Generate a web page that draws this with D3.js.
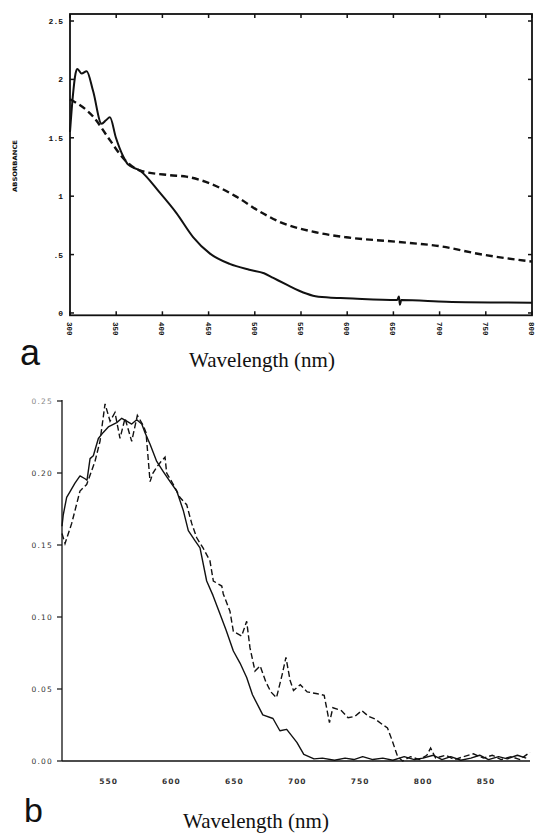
<!DOCTYPE html>
<html><head><meta charset="utf-8">
<script src="https://cdn.jsdelivr.net/npm/d3@7"></script>
<style>body{margin:0;background:#fff}svg{display:block}</style>
</head><body>
<svg id="c" width="535" height="835"></svg>
<script>
// ---------- Panel a data ----------
const aXTicks = [300,350,400,450,500,550,600,650,700,750,800];
const aYTicks = [0,0.5,1,1.5,2,2.5];
const aYLabels = ["0",".5","1","1.5","2","2.5"];
const aSolidNm  = [300,303,306,308,312.6,318,325,334.2,338.9,343.2,349.7,357.6,363,375.6,397.2,415.2,433.2,451.2,472.8,494,510,520,535,548,563,580,599,654,656,657,658.5,707,800];
const aSolidAbs = [1.55,1.85,2.05,2.09,2.05,2.07,1.9,1.62,1.65,1.675,1.5,1.34,1.27,1.22,1.03,0.855,0.65,0.51,0.42,0.37,0.34,0.30,0.24,0.19,0.148,0.132,0.126,0.11,0.14,0.07,0.11,0.097,0.088];
const aDashNm  = [300,325.2,343.2,357.6,375.6,408,426,451.2,480,505,526.8,562.8,598.8,652.8,703.2,742.8,800];
const aDashAbs = [1.83,1.68,1.48,1.325,1.22,1.18,1.167,1.11,0.996,0.87,0.78,0.696,0.648,0.61,0.568,0.505,0.44];

// ---------- Panel b data ----------
const bXTicks = [550,600,650,700,750,800,850];
const bYTicks = [0,0.05,0.10,0.15,0.20,0.25];
const bSolidNm  = [513,514,516.7,519.4,523.3,527.3,531.3,532.9,535.3,537.9,541.9,545.6,549.8,556.5,560.5,564.4,568.4,572.4,576.4,579,583,588.3,593.5,598.9,604.2,609.4,613.4,618.7,622.7,628,633,638.6,643.4,649.2,654.5,659.8,664.4,672.6,680.7,686.2,691.6,699.7,705.2,713.3,720,729.6,738,745,752,760,768,776,785,793,800,808,815,822,830,838,845,852,860,867,875,882];
const bSolidVal = [0.163,0.171,0.183,0.187,0.193,0.198,0.196,0.195,0.21,0.212,0.224,0.228,0.232,0.235,0.238,0.236,0.234,0.237,0.234,0.228,0.22,0.208,0.201,0.194,0.1875,0.174,0.16,0.153,0.148,0.125,0.115,0.102,0.091,0.0764,0.068,0.058,0.046,0.032,0.0295,0.021,0.022,0.0129,0.0046,0.0015,0.002,0.0005,0.002,0.001,0.003,0.001,0.002,0.0005,0.003,0.001,0.002,0.004,0.001,0.003,0.0005,0.002,0.004,0.001,0.003,0.0015,0.004,0.002];
const bDashNm  = [513,515.4,520.7,527.3,532.6,539.2,543.2,547.2,551.2,555.1,559.1,563.1,568.4,572.9,577.6,579.8,583,585.3,588.3,591.7,594.9,596.2,601.5,606.8,612.1,616.1,620.1,625.1,630.6,633.3,640,641.2,646.5,649.2,655.8,659.8,662.4,666.4,670.5,675,679,683.5,688,691,694.3,697,702.4,707.9,716,721.4,725.6,728.3,735,740.4,745.8,751.3,756.7,762.1,767.6,771.7,775.7,779.8,783.8,790,797,803,806,810,818,825,832,840,848,855,862,870,877,885];
const bDashVal = [0.158,0.151,0.165,0.1875,0.192,0.208,0.222,0.248,0.236,0.242,0.224,0.238,0.222,0.24,0.233,0.228,0.194,0.2,0.204,0.208,0.211,0.2,0.192,0.183,0.178,0.165,0.155,0.148,0.139,0.125,0.1215,0.116,0.104,0.09,0.0868,0.097,0.0787,0.0625,0.066,0.055,0.048,0.044,0.06,0.072,0.056,0.049,0.053,0.048,0.0467,0.0456,0.0266,0.037,0.035,0.030,0.031,0.035,0.031,0.029,0.0254,0.023,0.0136,0.003,0.0,0.003,0.001,0.004,0.009,0.002,0.004,0.001,0.003,0.005,0.002,0.004,0.001,0.003,0.001,0.006];

const svg = d3.select("#c");
const ink = "#111";

// ================= Panel a =================
const ax = d3.scaleLinear().domain([300,800]).range([70,532]);
const ay = d3.scaleLinear().domain([-0.02,2.56]).range([315.3,14]);
const ga = svg.append("g");

ga.append("rect").attr("x",ax(300)).attr("y",ay(2.56))
  .attr("width",ax(800)-ax(300)).attr("height",ay(-0.02)-ay(2.56))
  .attr("fill","none").attr("stroke",ink).attr("stroke-width",1.8);

const tk = 4;
aXTicks.forEach(t=>{
  ga.append("line").attr("x1",ax(t)).attr("x2",ax(t)).attr("y1",ay(-0.02)).attr("y2",ay(-0.02)-tk).attr("stroke",ink).attr("stroke-width",1.5);
  ga.append("line").attr("x1",ax(t)).attr("x2",ax(t)).attr("y1",ay(2.56)).attr("y2",ay(2.56)+tk).attr("stroke",ink).attr("stroke-width",1.5);
});
aYTicks.forEach(t=>{
  ga.append("line").attr("x1",ax(300)).attr("x2",ax(300)+tk).attr("y1",ay(t)).attr("y2",ay(t)).attr("stroke",ink).attr("stroke-width",1.5);
  ga.append("line").attr("x1",ax(800)).attr("x2",ax(800)-tk).attr("y1",ay(t)).attr("y2",ay(t)).attr("stroke",ink).attr("stroke-width",1.5);
});

ga.selectAll("text.yl").data(aYTicks).enter().append("text")
  .attr("x",63).attr("y",d=>ay(d)+3)
  .attr("text-anchor","end").attr("font-family","Liberation Mono, monospace")
  .attr("font-weight","bold").attr("font-size",8).attr("fill",ink)
  .text((d,i)=>aYLabels[i]);

ga.selectAll("text.xl").data(aXTicks).enter().append("text")
  .attr("transform",d=>`translate(${Math.min(ax(d)-3,529)},322) rotate(90)`)
  .attr("text-anchor","start").attr("font-family","Liberation Mono, monospace")
  .attr("font-weight","bold").attr("font-size",7.5).attr("fill",ink)
  .text(d=>d);

ga.append("text").attr("transform","translate(17,166) rotate(-90)")
  .attr("text-anchor","middle").attr("font-family","DejaVu Sans, sans-serif")
  .attr("font-weight","bold").attr("font-size",6).attr("fill",ink)
  .attr("textLength",52).attr("lengthAdjust","spacingAndGlyphs")
  .text("ABSORBANCE");

const lineA = d3.line().x(d=>ax(d[0])).y(d=>ay(d[1])).curve(d3.curveMonotoneX);
ga.append("path").datum(aSolidNm.map((n,i)=>[n,aSolidAbs[i]]))
  .attr("d",lineA).attr("fill","none").attr("stroke",ink).attr("stroke-width",2);
ga.append("path").datum(aDashNm.map((n,i)=>[n,aDashAbs[i]]))
  .attr("d",lineA).attr("fill","none").attr("stroke",ink).attr("stroke-width",2.4)
  .attr("stroke-dasharray","7,4");

svg.append("text").attr("x",20).attr("y",365)
  .attr("font-family","Liberation Sans, Arial, sans-serif").attr("font-size",36).attr("fill",ink).text("a");
svg.append("text").attr("x",262).attr("y",367).attr("text-anchor","middle")
  .attr("font-family","Liberation Serif, Times New Roman, serif").attr("font-size",21).attr("fill",ink)
  .text("Wavelength (nm)");

// ================= Panel b =================
const bx = d3.scaleLinear().domain([513,885]).range([62,530]);
const by = d3.scaleLinear().domain([0,0.25]).range([761,401]);
const gb = svg.append("g");

gb.append("line").attr("x1",bx(513)).attr("x2",bx(513)).attr("y1",by(0)).attr("y2",by(0.25)-1)
  .attr("stroke",ink).attr("stroke-width",1.3);
gb.append("line").attr("x1",bx(513)).attr("x2",bx(885)).attr("y1",by(0)).attr("y2",by(0))
  .attr("stroke",ink).attr("stroke-width",1.3);

bYTicks.forEach(t=>{
  gb.append("line").attr("x1",bx(513)-5).attr("x2",bx(513)).attr("y1",by(t)).attr("y2",by(t)).attr("stroke",ink).attr("stroke-width",1.2);
});
gb.selectAll("text.byl").data(bYTicks).enter().append("text")
  .attr("x",53).attr("y",d=>by(d)+3)
  .attr("text-anchor","end").attr("font-family","DejaVu Sans, sans-serif")
  .attr("font-size",7.5).attr("letter-spacing",1.2).attr("fill",d=>d===0.25?"#888":"#333")
  .text(d=>d3.format(".2f")(d));
gb.selectAll("text.bxl").data(bXTicks).enter().append("text")
  .attr("x",d=>bx(d)).attr("y",784)
  .attr("text-anchor","middle").attr("font-family","DejaVu Sans, sans-serif")
  .attr("font-size",7.5).attr("letter-spacing",1).attr("font-weight","bold").attr("fill","#333")
  .text(d=>d);

const lineB = d3.line().x(d=>bx(d[0])).y(d=>by(d[1]));
gb.append("path").datum(bSolidNm.map((n,i)=>[n,bSolidVal[i]]))
  .attr("d",lineB).attr("fill","none").attr("stroke",ink).attr("stroke-width",1.4).attr("stroke-linejoin","round");
gb.append("path").datum(bDashNm.map((n,i)=>[n,bDashVal[i]]))
  .attr("d",lineB).attr("fill","none").attr("stroke",ink).attr("stroke-width",1.4)
  .attr("stroke-dasharray","6,3");

svg.append("text").attr("x",24).attr("y",822)
  .attr("font-family","Liberation Sans, Arial, sans-serif").attr("font-size",34).attr("fill",ink).text("b");
svg.append("text").attr("x",256).attr("y",828).attr("text-anchor","middle")
  .attr("font-family","Liberation Serif, Times New Roman, serif").attr("font-size",21).attr("fill",ink)
  .text("Wavelength (nm)");
</script>
</body></html>
